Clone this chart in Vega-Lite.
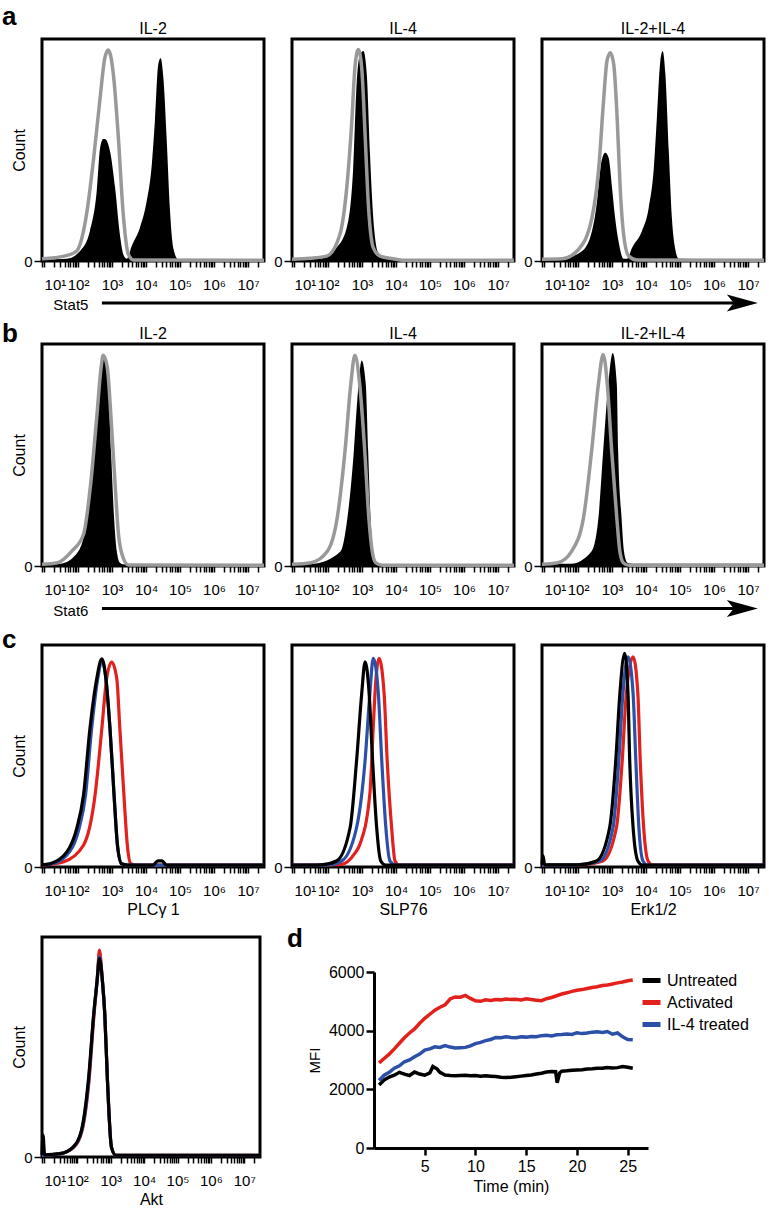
{
  "$schema": "https://vega.github.io/schema/vega-lite/v6.json",
  "padding": {"left": 2, "top": 3, "right": 2, "bottom": 2},
  "config": {
    "font": "Liberation Sans",
    "view": {"stroke": "black", "strokeWidth": 3},
    "axis": {"labelFont": "Liberation Sans", "titleFont": "Liberation Sans", "labelColor": "black", "titleColor": "black", "grid": false, "tickColor": "black", "domainColor": "black", "titleFontWeight": "normal"},
    "title": {"font": "Liberation Sans", "fontWeight": "normal", "color": "black"},
    "legend": {"labelFont": "Liberation Sans", "labelColor": "black", "padding": 0}
  },
  "datasets": {
    "hist": [
      {"panel":"a1","series":"unstimulated","logx":0.94,"count":1},
      {"panel":"a1","series":"unstimulated","logx":1.32,"count":1.5},
      {"panel":"a1","series":"unstimulated","logx":1.68,"count":2.5},
      {"panel":"a1","series":"unstimulated","logx":1.96,"count":4.5},
      {"panel":"a1","series":"unstimulated","logx":2.25,"count":21},
      {"panel":"a1","series":"unstimulated","logx":2.45,"count":45},
      {"panel":"a1","series":"unstimulated","logx":2.65,"count":73.6},
      {"panel":"a1","series":"unstimulated","logx":2.79,"count":91.6},
      {"panel":"a1","series":"unstimulated","logx":2.89,"count":95},
      {"panel":"a1","series":"unstimulated","logx":3.04,"count":84},
      {"panel":"a1","series":"unstimulated","logx":3.18,"count":57},
      {"panel":"a1","series":"unstimulated","logx":3.33,"count":21},
      {"panel":"a1","series":"unstimulated","logx":3.48,"count":3},
      {"panel":"a1","series":"unstimulated","logx":3.63,"count":0.5},
      {"panel":"a1","series":"unstimulated","logx":7.47,"count":0.3},
      {"panel":"a1","series":"stimulated","logx":0.94,"count":0.5},
      {"panel":"a1","series":"stimulated","logx":1.67,"count":1},
      {"panel":"a1","series":"stimulated","logx":2.06,"count":4.5},
      {"panel":"a1","series":"stimulated","logx":2.35,"count":13.5},
      {"panel":"a1","series":"stimulated","logx":2.55,"count":31.5},
      {"panel":"a1","series":"stimulated","logx":2.65,"count":51},
      {"panel":"a1","series":"stimulated","logx":2.74,"count":55},
      {"panel":"a1","series":"stimulated","logx":2.79,"count":55},
      {"panel":"a1","series":"stimulated","logx":2.94,"count":49.5},
      {"panel":"a1","series":"stimulated","logx":3.09,"count":33},
      {"panel":"a1","series":"stimulated","logx":3.23,"count":12},
      {"panel":"a1","series":"stimulated","logx":3.33,"count":3},
      {"panel":"a1","series":"stimulated","logx":3.43,"count":1},
      {"panel":"a1","series":"stimulated","logx":3.58,"count":6.8},
      {"panel":"a1","series":"stimulated","logx":3.82,"count":15},
      {"panel":"a1","series":"stimulated","logx":4.02,"count":27},
      {"panel":"a1","series":"stimulated","logx":4.17,"count":43.5},
      {"panel":"a1","series":"stimulated","logx":4.26,"count":63},
      {"panel":"a1","series":"stimulated","logx":4.36,"count":88.6},
      {"panel":"a1","series":"stimulated","logx":4.43,"count":91.3},
      {"panel":"a1","series":"stimulated","logx":4.51,"count":82.6},
      {"panel":"a1","series":"stimulated","logx":4.61,"count":54},
      {"panel":"a1","series":"stimulated","logx":4.70,"count":24},
      {"panel":"a1","series":"stimulated","logx":4.80,"count":6},
      {"panel":"a1","series":"stimulated","logx":4.95,"count":0.7},
      {"panel":"a1","series":"stimulated","logx":7.47,"count":0.5},

      {"panel":"a2","series":"unstimulated","logx":0.94,"count":0.8},
      {"panel":"a2","series":"unstimulated","logx":1.47,"count":1.2},
      {"panel":"a2","series":"unstimulated","logx":1.96,"count":2.2},
      {"panel":"a2","series":"unstimulated","logx":2.35,"count":12},
      {"panel":"a2","series":"unstimulated","logx":2.55,"count":33},
      {"panel":"a2","series":"unstimulated","logx":2.70,"count":63},
      {"panel":"a2","series":"unstimulated","logx":2.79,"count":87},
      {"panel":"a2","series":"unstimulated","logx":2.89,"count":95.3},
      {"panel":"a2","series":"unstimulated","logx":2.99,"count":87},
      {"panel":"a2","series":"unstimulated","logx":3.09,"count":57},
      {"panel":"a2","series":"unstimulated","logx":3.18,"count":27},
      {"panel":"a2","series":"unstimulated","logx":3.33,"count":6},
      {"panel":"a2","series":"unstimulated","logx":3.53,"count":2.2},
      {"panel":"a2","series":"unstimulated","logx":3.91,"count":1},
      {"panel":"a2","series":"unstimulated","logx":4.2,"count":0.3},
      {"panel":"a2","series":"unstimulated","logx":7.47,"count":0.3},
      {"panel":"a2","series":"stimulated","logx":0.94,"count":0.5},
      {"panel":"a2","series":"stimulated","logx":1.76,"count":1},
      {"panel":"a2","series":"stimulated","logx":2.25,"count":6},
      {"panel":"a2","series":"stimulated","logx":2.55,"count":15},
      {"panel":"a2","series":"stimulated","logx":2.74,"count":42},
      {"panel":"a2","series":"stimulated","logx":2.84,"count":79.6},
      {"panel":"a2","series":"stimulated","logx":2.94,"count":93},
      {"panel":"a2","series":"stimulated","logx":3.04,"count":94.6},
      {"panel":"a2","series":"stimulated","logx":3.14,"count":84},
      {"panel":"a2","series":"stimulated","logx":3.23,"count":49.5},
      {"panel":"a2","series":"stimulated","logx":3.33,"count":19.5},
      {"panel":"a2","series":"stimulated","logx":3.48,"count":3.7},
      {"panel":"a2","series":"stimulated","logx":3.63,"count":2.2},
      {"panel":"a2","series":"stimulated","logx":4.12,"count":1},
      {"panel":"a2","series":"stimulated","logx":4.41,"count":0.3},
      {"panel":"a2","series":"stimulated","logx":7.47,"count":0.3},

      {"panel":"a3","series":"unstimulated","logx":0.94,"count":0.8},
      {"panel":"a3","series":"unstimulated","logx":1.53,"count":1},
      {"panel":"a3","series":"unstimulated","logx":2.02,"count":5.3},
      {"panel":"a3","series":"unstimulated","logx":2.41,"count":19.5},
      {"panel":"a3","series":"unstimulated","logx":2.61,"count":42},
      {"panel":"a3","series":"unstimulated","logx":2.75,"count":72},
      {"panel":"a3","series":"unstimulated","logx":2.85,"count":90},
      {"panel":"a3","series":"unstimulated","logx":2.95,"count":93.8},
      {"panel":"a3","series":"unstimulated","logx":3.05,"count":88.6},
      {"panel":"a3","series":"unstimulated","logx":3.15,"count":64.6},
      {"panel":"a3","series":"unstimulated","logx":3.24,"count":33},
      {"panel":"a3","series":"unstimulated","logx":3.34,"count":12},
      {"panel":"a3","series":"unstimulated","logx":3.49,"count":2.2},
      {"panel":"a3","series":"unstimulated","logx":3.73,"count":0.5},
      {"panel":"a3","series":"unstimulated","logx":7.47,"count":0.3},
      {"panel":"a3","series":"stimulated","logx":0.94,"count":0.5},
      {"panel":"a3","series":"stimulated","logx":1.53,"count":1},
      {"panel":"a3","series":"stimulated","logx":2.12,"count":4.5},
      {"panel":"a3","series":"stimulated","logx":2.41,"count":13.5},
      {"panel":"a3","series":"stimulated","logx":2.56,"count":27},
      {"panel":"a3","series":"stimulated","logx":2.66,"count":42},
      {"panel":"a3","series":"stimulated","logx":2.75,"count":48},
      {"panel":"a3","series":"stimulated","logx":2.80,"count":48.8},
      {"panel":"a3","series":"stimulated","logx":2.90,"count":46.5},
      {"panel":"a3","series":"stimulated","logx":3.0,"count":33},
      {"panel":"a3","series":"stimulated","logx":3.09,"count":19.5},
      {"panel":"a3","series":"stimulated","logx":3.19,"count":9},
      {"panel":"a3","series":"stimulated","logx":3.34,"count":1},
      {"panel":"a3","series":"stimulated","logx":3.44,"count":1},
      {"panel":"a3","series":"stimulated","logx":3.59,"count":6},
      {"panel":"a3","series":"stimulated","logx":3.88,"count":13.5},
      {"panel":"a3","series":"stimulated","logx":4.08,"count":24},
      {"panel":"a3","series":"stimulated","logx":4.23,"count":42},
      {"panel":"a3","series":"stimulated","logx":4.32,"count":64.6},
      {"panel":"a3","series":"stimulated","logx":4.42,"count":90},
      {"panel":"a3","series":"stimulated","logx":4.49,"count":94.6},
      {"panel":"a3","series":"stimulated","logx":4.57,"count":84},
      {"panel":"a3","series":"stimulated","logx":4.67,"count":49.5},
      {"panel":"a3","series":"stimulated","logx":4.76,"count":19.5},
      {"panel":"a3","series":"stimulated","logx":4.86,"count":5.3},
      {"panel":"a3","series":"stimulated","logx":4.96,"count":1},
      {"panel":"a3","series":"stimulated","logx":7.47,"count":0.5},

      {"panel":"b1","series":"unstimulated","logx":0.94,"count":0.8},
      {"panel":"b1","series":"unstimulated","logx":1.4,"count":1.5},
      {"panel":"b1","series":"unstimulated","logx":1.81,"count":6.6},
      {"panel":"b1","series":"unstimulated","logx":2.16,"count":14.2},
      {"panel":"b1","series":"unstimulated","logx":2.37,"count":36.8},
      {"panel":"b1","series":"unstimulated","logx":2.55,"count":67},
      {"panel":"b1","series":"unstimulated","logx":2.68,"count":89.6},
      {"panel":"b1","series":"unstimulated","logx":2.74,"count":94.9},
      {"panel":"b1","series":"unstimulated","logx":2.86,"count":89.6},
      {"panel":"b1","series":"unstimulated","logx":2.97,"count":67},
      {"panel":"b1","series":"unstimulated","logx":3.09,"count":36.8},
      {"panel":"b1","series":"unstimulated","logx":3.19,"count":14.2},
      {"panel":"b1","series":"unstimulated","logx":3.33,"count":3.6},
      {"panel":"b1","series":"unstimulated","logx":3.48,"count":0.5},
      {"panel":"b1","series":"unstimulated","logx":7.47,"count":0.3},
      {"panel":"b1","series":"stimulated","logx":0.94,"count":0.5},
      {"panel":"b1","series":"stimulated","logx":1.5,"count":1},
      {"panel":"b1","series":"stimulated","logx":2.01,"count":6.6},
      {"panel":"b1","series":"stimulated","logx":2.27,"count":21.7},
      {"panel":"b1","series":"stimulated","logx":2.48,"count":51.9},
      {"panel":"b1","series":"stimulated","logx":2.65,"count":82},
      {"panel":"b1","series":"stimulated","logx":2.76,"count":93.3},
      {"panel":"b1","series":"stimulated","logx":2.89,"count":82},
      {"panel":"b1","series":"stimulated","logx":2.97,"count":51.9},
      {"panel":"b1","series":"stimulated","logx":3.06,"count":21.7},
      {"panel":"b1","series":"stimulated","logx":3.14,"count":6.6},
      {"panel":"b1","series":"stimulated","logx":3.23,"count":1.5},
      {"panel":"b1","series":"stimulated","logx":3.4,"count":0.5},
      {"panel":"b1","series":"stimulated","logx":7.47,"count":0.5},

      {"panel":"b2","series":"unstimulated","logx":0.94,"count":0.8},
      {"panel":"b2","series":"unstimulated","logx":1.5,"count":1.5},
      {"panel":"b2","series":"unstimulated","logx":1.98,"count":6.6},
      {"panel":"b2","series":"unstimulated","logx":2.27,"count":21.7},
      {"panel":"b2","series":"unstimulated","logx":2.50,"count":51.9},
      {"panel":"b2","series":"unstimulated","logx":2.67,"count":82},
      {"panel":"b2","series":"unstimulated","logx":2.79,"count":94.9},
      {"panel":"b2","series":"unstimulated","logx":2.93,"count":82},
      {"panel":"b2","series":"unstimulated","logx":3.08,"count":51.9},
      {"panel":"b2","series":"unstimulated","logx":3.20,"count":21.7},
      {"panel":"b2","series":"unstimulated","logx":3.30,"count":6.6},
      {"panel":"b2","series":"unstimulated","logx":3.40,"count":1.5},
      {"panel":"b2","series":"unstimulated","logx":3.6,"count":0.3},
      {"panel":"b2","series":"unstimulated","logx":7.47,"count":0.3},
      {"panel":"b2","series":"stimulated","logx":0.94,"count":0.5},
      {"panel":"b2","series":"stimulated","logx":1.6,"count":1},
      {"panel":"b2","series":"stimulated","logx":2.37,"count":6.6},
      {"panel":"b2","series":"stimulated","logx":2.57,"count":21.7},
      {"panel":"b2","series":"stimulated","logx":2.76,"count":51.9},
      {"panel":"b2","series":"stimulated","logx":2.86,"count":74.5},
      {"panel":"b2","series":"stimulated","logx":2.99,"count":92.6},
      {"panel":"b2","series":"stimulated","logx":3.11,"count":82},
      {"panel":"b2","series":"stimulated","logx":3.18,"count":51.9},
      {"panel":"b2","series":"stimulated","logx":3.25,"count":21.7},
      {"panel":"b2","series":"stimulated","logx":3.32,"count":6.6},
      {"panel":"b2","series":"stimulated","logx":3.38,"count":1.5},
      {"panel":"b2","series":"stimulated","logx":3.6,"count":0.5},
      {"panel":"b2","series":"stimulated","logx":7.47,"count":0.5},

      {"panel":"b3","series":"unstimulated","logx":0.94,"count":0.8},
      {"panel":"b3","series":"unstimulated","logx":1.4,"count":1.5},
      {"panel":"b3","series":"unstimulated","logx":1.81,"count":6.6},
      {"panel":"b3","series":"unstimulated","logx":2.16,"count":21.7},
      {"panel":"b3","series":"unstimulated","logx":2.40,"count":51.9},
      {"panel":"b3","series":"unstimulated","logx":2.60,"count":82},
      {"panel":"b3","series":"unstimulated","logx":2.74,"count":95.3},
      {"panel":"b3","series":"unstimulated","logx":2.86,"count":82},
      {"panel":"b3","series":"unstimulated","logx":2.99,"count":51.9},
      {"panel":"b3","series":"unstimulated","logx":3.14,"count":21.7},
      {"panel":"b3","series":"unstimulated","logx":3.23,"count":6.6},
      {"panel":"b3","series":"unstimulated","logx":3.33,"count":1.5},
      {"panel":"b3","series":"unstimulated","logx":3.5,"count":0.3},
      {"panel":"b3","series":"unstimulated","logx":7.47,"count":0.3},
      {"panel":"b3","series":"stimulated","logx":0.94,"count":1},
      {"panel":"b3","series":"stimulated","logx":1.8,"count":1},
      {"panel":"b3","series":"stimulated","logx":2.40,"count":6.6},
      {"panel":"b3","series":"stimulated","logx":2.60,"count":21.7},
      {"panel":"b3","series":"stimulated","logx":2.74,"count":51.9},
      {"panel":"b3","series":"stimulated","logx":2.89,"count":82},
      {"panel":"b3","series":"stimulated","logx":3.02,"count":95.9},
      {"panel":"b3","series":"stimulated","logx":3.14,"count":82},
      {"panel":"b3","series":"stimulated","logx":3.18,"count":51.9},
      {"panel":"b3","series":"stimulated","logx":3.28,"count":21.7},
      {"panel":"b3","series":"stimulated","logx":3.35,"count":6.6},
      {"panel":"b3","series":"stimulated","logx":3.45,"count":1.5},
      {"panel":"b3","series":"stimulated","logx":3.6,"count":1},
      {"panel":"b3","series":"stimulated","logx":7.47,"count":1},

      {"panel":"c1","series":"Activated","logx":0.94,"count":0.8},
      {"panel":"c1","series":"Activated","logx":1.57,"count":2.3},
      {"panel":"c1","series":"Activated","logx":2.16,"count":9.8},
      {"panel":"c1","series":"Activated","logx":2.50,"count":32.3},
      {"panel":"c1","series":"Activated","logx":2.70,"count":62.3},
      {"panel":"c1","series":"Activated","logx":2.84,"count":84.8},
      {"panel":"c1","series":"Activated","logx":2.99,"count":92.3},
      {"panel":"c1","series":"Activated","logx":3.14,"count":84.8},
      {"panel":"c1","series":"Activated","logx":3.23,"count":62.3},
      {"panel":"c1","series":"Activated","logx":3.35,"count":32.3},
      {"panel":"c1","series":"Activated","logx":3.45,"count":9.8},
      {"panel":"c1","series":"Activated","logx":3.55,"count":1.5},
      {"panel":"c1","series":"Activated","logx":3.7,"count":0.8},
      {"panel":"c1","series":"Activated","logx":7.47,"count":0.8},
      {"panel":"c1","series":"IL-4 treated","logx":0.94,"count":1},
      {"panel":"c1","series":"IL-4 treated","logx":1.25,"count":1.5},
      {"panel":"c1","series":"IL-4 treated","logx":1.75,"count":6.8},
      {"panel":"c1","series":"IL-4 treated","logx":2.03,"count":17.3},
      {"panel":"c1","series":"IL-4 treated","logx":2.22,"count":32.3},
      {"panel":"c1","series":"IL-4 treated","logx":2.40,"count":62.3},
      {"panel":"c1","series":"IL-4 treated","logx":2.58,"count":84.8},
      {"panel":"c1","series":"IL-4 treated","logx":2.70,"count":93},
      {"panel":"c1","series":"IL-4 treated","logx":2.82,"count":84.8},
      {"panel":"c1","series":"IL-4 treated","logx":2.94,"count":62.3},
      {"panel":"c1","series":"IL-4 treated","logx":3.06,"count":32.3},
      {"panel":"c1","series":"IL-4 treated","logx":3.16,"count":9.8},
      {"panel":"c1","series":"IL-4 treated","logx":3.28,"count":1.5},
      {"panel":"c1","series":"IL-4 treated","logx":3.5,"count":0.8},
      {"panel":"c1","series":"IL-4 treated","logx":7.47,"count":0.8},
      {"panel":"c1","series":"Untreated","logx":0.94,"count":1},
      {"panel":"c1","series":"Untreated","logx":1.18,"count":1.5},
      {"panel":"c1","series":"Untreated","logx":1.67,"count":6.8},
      {"panel":"c1","series":"Untreated","logx":1.96,"count":17.3},
      {"panel":"c1","series":"Untreated","logx":2.16,"count":32.3},
      {"panel":"c1","series":"Untreated","logx":2.35,"count":62.3},
      {"panel":"c1","series":"Untreated","logx":2.55,"count":84.8},
      {"panel":"c1","series":"Untreated","logx":2.70,"count":93.8},
      {"panel":"c1","series":"Untreated","logx":2.82,"count":84.8},
      {"panel":"c1","series":"Untreated","logx":2.94,"count":62.3},
      {"panel":"c1","series":"Untreated","logx":3.06,"count":32.3},
      {"panel":"c1","series":"Untreated","logx":3.16,"count":9.8},
      {"panel":"c1","series":"Untreated","logx":3.28,"count":1.5},
      {"panel":"c1","series":"Untreated","logx":3.5,"count":0.8},
      {"panel":"c1","series":"Untreated","logx":4.2,"count":0.8},
      {"panel":"c1","series":"Untreated","logx":4.35,"count":2.8},
      {"panel":"c1","series":"Untreated","logx":4.47,"count":2.8},
      {"panel":"c1","series":"Untreated","logx":4.6,"count":0.8},
      {"panel":"c1","series":"Untreated","logx":7.47,"count":0.8},

      {"panel":"c2","series":"Activated","logx":0.94,"count":0.8},
      {"panel":"c2","series":"Activated","logx":2.40,"count":1.2},
      {"panel":"c2","series":"Activated","logx":2.78,"count":6},
      {"panel":"c2","series":"Activated","logx":2.94,"count":10.3},
      {"panel":"c2","series":"Activated","logx":3.23,"count":32.9},
      {"panel":"c2","series":"Activated","logx":3.33,"count":63},
      {"panel":"c2","series":"Activated","logx":3.38,"count":78},
      {"panel":"c2","series":"Activated","logx":3.50,"count":94},
      {"panel":"c2","series":"Activated","logx":3.65,"count":78},
      {"panel":"c2","series":"Activated","logx":3.74,"count":48},
      {"panel":"c2","series":"Activated","logx":3.87,"count":17.8},
      {"panel":"c2","series":"Activated","logx":3.97,"count":2.7},
      {"panel":"c2","series":"Activated","logx":4.1,"count":0.8},
      {"panel":"c2","series":"Activated","logx":7.47,"count":0.8},
      {"panel":"c2","series":"IL-4 treated","logx":0.94,"count":0.8},
      {"panel":"c2","series":"IL-4 treated","logx":2.0,"count":1},
      {"panel":"c2","series":"IL-4 treated","logx":2.40,"count":2.7},
      {"panel":"c2","series":"IL-4 treated","logx":2.84,"count":17.8},
      {"panel":"c2","series":"IL-4 treated","logx":3.09,"count":48},
      {"panel":"c2","series":"IL-4 treated","logx":3.23,"count":78},
      {"panel":"c2","series":"IL-4 treated","logx":3.33,"count":94},
      {"panel":"c2","series":"IL-4 treated","logx":3.48,"count":78},
      {"panel":"c2","series":"IL-4 treated","logx":3.58,"count":48},
      {"panel":"c2","series":"IL-4 treated","logx":3.70,"count":17.8},
      {"panel":"c2","series":"IL-4 treated","logx":3.82,"count":2.7},
      {"panel":"c2","series":"IL-4 treated","logx":4.0,"count":0.8},
      {"panel":"c2","series":"IL-4 treated","logx":7.47,"count":0.8},
      {"panel":"c2","series":"Untreated","logx":0.94,"count":0.8},
      {"panel":"c2","series":"Untreated","logx":1.8,"count":1},
      {"panel":"c2","series":"Untreated","logx":2.25,"count":2.7},
      {"panel":"c2","series":"Untreated","logx":2.65,"count":17.8},
      {"panel":"c2","series":"Untreated","logx":2.84,"count":48},
      {"panel":"c2","series":"Untreated","logx":2.99,"count":78},
      {"panel":"c2","series":"Untreated","logx":3.09,"count":92.4},
      {"panel":"c2","series":"Untreated","logx":3.21,"count":78},
      {"panel":"c2","series":"Untreated","logx":3.31,"count":48},
      {"panel":"c2","series":"Untreated","logx":3.43,"count":17.8},
      {"panel":"c2","series":"Untreated","logx":3.55,"count":2.7},
      {"panel":"c2","series":"Untreated","logx":3.7,"count":0.8},
      {"panel":"c2","series":"Untreated","logx":7.47,"count":0.8},

      {"panel":"c3","series":"Activated","logx":0.94,"count":0.8},
      {"panel":"c3","series":"Activated","logx":2.1,"count":1},
      {"panel":"c3","series":"Activated","logx":2.73,"count":2.7},
      {"panel":"c3","series":"Activated","logx":3.13,"count":17.8},
      {"panel":"c3","series":"Activated","logx":3.30,"count":48},
      {"panel":"c3","series":"Activated","logx":3.42,"count":78},
      {"panel":"c3","series":"Activated","logx":3.62,"count":94.7},
      {"panel":"c3","series":"Activated","logx":3.76,"count":78},
      {"panel":"c3","series":"Activated","logx":3.83,"count":48},
      {"panel":"c3","series":"Activated","logx":3.93,"count":17.8},
      {"panel":"c3","series":"Activated","logx":4.06,"count":2.7},
      {"panel":"c3","series":"Activated","logx":4.2,"count":0.8},
      {"panel":"c3","series":"Activated","logx":7.47,"count":0.8},
      {"panel":"c3","series":"IL-4 treated","logx":0.94,"count":0.8},
      {"panel":"c3","series":"IL-4 treated","logx":2.0,"count":1},
      {"panel":"c3","series":"IL-4 treated","logx":2.64,"count":2.7},
      {"panel":"c3","series":"IL-4 treated","logx":3.03,"count":17.8},
      {"panel":"c3","series":"IL-4 treated","logx":3.20,"count":48},
      {"panel":"c3","series":"IL-4 treated","logx":3.32,"count":78},
      {"panel":"c3","series":"IL-4 treated","logx":3.47,"count":94.7},
      {"panel":"c3","series":"IL-4 treated","logx":3.62,"count":78},
      {"panel":"c3","series":"IL-4 treated","logx":3.70,"count":48},
      {"panel":"c3","series":"IL-4 treated","logx":3.79,"count":17.8},
      {"panel":"c3","series":"IL-4 treated","logx":3.91,"count":2.7},
      {"panel":"c3","series":"IL-4 treated","logx":4.05,"count":0.8},
      {"panel":"c3","series":"IL-4 treated","logx":7.47,"count":0.8},
      {"panel":"c3","series":"Untreated","logx":0.94,"count":1},
      {"panel":"c3","series":"Untreated","logx":0.97,"count":5},
      {"panel":"c3","series":"Untreated","logx":1.02,"count":1},
      {"panel":"c3","series":"Untreated","logx":2.0,"count":1},
      {"panel":"c3","series":"Untreated","logx":2.54,"count":2.7},
      {"panel":"c3","series":"Untreated","logx":2.93,"count":17.8},
      {"panel":"c3","series":"Untreated","logx":3.11,"count":48},
      {"panel":"c3","series":"Untreated","logx":3.23,"count":78},
      {"panel":"c3","series":"Untreated","logx":3.37,"count":96.2},
      {"panel":"c3","series":"Untreated","logx":3.47,"count":78},
      {"panel":"c3","series":"Untreated","logx":3.52,"count":48},
      {"panel":"c3","series":"Untreated","logx":3.62,"count":17.8},
      {"panel":"c3","series":"Untreated","logx":3.76,"count":2.7},
      {"panel":"c3","series":"Untreated","logx":3.9,"count":0.8},
      {"panel":"c3","series":"Untreated","logx":7.47,"count":0.8},

      {"panel":"c4","series":"Activated","logx":0.94,"count":0.8},
      {"panel":"c4","series":"Activated","logx":1.48,"count":1.5},
      {"panel":"c4","series":"Activated","logx":1.9,"count":4.5},
      {"panel":"c4","series":"Activated","logx":2.14,"count":12},
      {"panel":"c4","series":"Activated","logx":2.35,"count":35},
      {"panel":"c4","series":"Activated","logx":2.50,"count":65},
      {"panel":"c4","series":"Activated","logx":2.60,"count":82},
      {"panel":"c4","series":"Activated","logx":2.66,"count":94},
      {"panel":"c4","series":"Activated","logx":2.75,"count":80},
      {"panel":"c4","series":"Activated","logx":2.82,"count":65},
      {"panel":"c4","series":"Activated","logx":2.90,"count":35},
      {"panel":"c4","series":"Activated","logx":3.02,"count":4.5},
      {"panel":"c4","series":"Activated","logx":3.15,"count":0.8},
      {"panel":"c4","series":"Activated","logx":7.47,"count":0.8},
      {"panel":"c4","series":"IL-4 treated","logx":0.94,"count":0.8},
      {"panel":"c4","series":"IL-4 treated","logx":1.48,"count":1.5},
      {"panel":"c4","series":"IL-4 treated","logx":1.88,"count":4.5},
      {"panel":"c4","series":"IL-4 treated","logx":2.13,"count":12},
      {"panel":"c4","series":"IL-4 treated","logx":2.34,"count":35},
      {"panel":"c4","series":"IL-4 treated","logx":2.49,"count":65},
      {"panel":"c4","series":"IL-4 treated","logx":2.59,"count":80},
      {"panel":"c4","series":"IL-4 treated","logx":2.66,"count":91},
      {"panel":"c4","series":"IL-4 treated","logx":2.75,"count":80},
      {"panel":"c4","series":"IL-4 treated","logx":2.82,"count":65},
      {"panel":"c4","series":"IL-4 treated","logx":2.90,"count":35},
      {"panel":"c4","series":"IL-4 treated","logx":3.02,"count":4.5},
      {"panel":"c4","series":"IL-4 treated","logx":3.15,"count":0.8},
      {"panel":"c4","series":"IL-4 treated","logx":7.47,"count":0.8},
      {"panel":"c4","series":"Untreated","logx":0.94,"count":1},
      {"panel":"c4","series":"Untreated","logx":0.97,"count":10},
      {"panel":"c4","series":"Untreated","logx":1.02,"count":1},
      {"panel":"c4","series":"Untreated","logx":1.48,"count":1.5},
      {"panel":"c4","series":"Untreated","logx":1.87,"count":4.5},
      {"panel":"c4","series":"Untreated","logx":2.12,"count":12},
      {"panel":"c4","series":"Untreated","logx":2.33,"count":35},
      {"panel":"c4","series":"Untreated","logx":2.49,"count":65},
      {"panel":"c4","series":"Untreated","logx":2.59,"count":80},
      {"panel":"c4","series":"Untreated","logx":2.66,"count":90.2},
      {"panel":"c4","series":"Untreated","logx":2.75,"count":80},
      {"panel":"c4","series":"Untreated","logx":2.82,"count":65},
      {"panel":"c4","series":"Untreated","logx":2.90,"count":35},
      {"panel":"c4","series":"Untreated","logx":3.02,"count":4.5},
      {"panel":"c4","series":"Untreated","logx":3.15,"count":0.8},
      {"panel":"c4","series":"Untreated","logx":7.47,"count":0.8}
    ],
    "mfi": [
      {"group":"Untreated","time":0.5,"MFI":2150},{"group":"Untreated","time":1.0,"MFI":2320},{"group":"Untreated","time":1.5,"MFI":2420},{"group":"Untreated","time":2.0,"MFI":2480},{"group":"Untreated","time":2.5,"MFI":2580},{"group":"Untreated","time":3.0,"MFI":2520},{"group":"Untreated","time":3.5,"MFI":2470},{"group":"Untreated","time":4.0,"MFI":2590},{"group":"Untreated","time":4.5,"MFI":2520},{"group":"Untreated","time":5.0,"MFI":2480},{"group":"Untreated","time":5.5,"MFI":2560},{"group":"Untreated","time":5.8,"MFI":2780},{"group":"Untreated","time":6.2,"MFI":2700},{"group":"Untreated","time":6.5,"MFI":2580},{"group":"Untreated","time":7.0,"MFI":2490},{"group":"Untreated","time":7.5,"MFI":2470},{"group":"Untreated","time":8.0,"MFI":2460},{"group":"Untreated","time":8.5,"MFI":2470},{"group":"Untreated","time":9.0,"MFI":2480},{"group":"Untreated","time":9.5,"MFI":2460},{"group":"Untreated","time":10.0,"MFI":2470},{"group":"Untreated","time":10.5,"MFI":2450},{"group":"Untreated","time":11.0,"MFI":2460},{"group":"Untreated","time":11.5,"MFI":2450},{"group":"Untreated","time":12.0,"MFI":2440},{"group":"Untreated","time":12.5,"MFI":2410},{"group":"Untreated","time":13.0,"MFI":2400},{"group":"Untreated","time":13.5,"MFI":2410},{"group":"Untreated","time":14.0,"MFI":2430},{"group":"Untreated","time":14.5,"MFI":2450},{"group":"Untreated","time":15.0,"MFI":2470},{"group":"Untreated","time":15.5,"MFI":2490},{"group":"Untreated","time":16.0,"MFI":2520},{"group":"Untreated","time":16.5,"MFI":2550},{"group":"Untreated","time":17.0,"MFI":2590},{"group":"Untreated","time":17.5,"MFI":2610},{"group":"Untreated","time":17.9,"MFI":2600},{"group":"Untreated","time":18.05,"MFI":2220},{"group":"Untreated","time":18.3,"MFI":2560},{"group":"Untreated","time":18.5,"MFI":2620},{"group":"Untreated","time":19.0,"MFI":2630},{"group":"Untreated","time":19.5,"MFI":2650},{"group":"Untreated","time":20.0,"MFI":2660},{"group":"Untreated","time":20.5,"MFI":2670},{"group":"Untreated","time":21.0,"MFI":2690},{"group":"Untreated","time":21.5,"MFI":2700},{"group":"Untreated","time":22.0,"MFI":2720},{"group":"Untreated","time":22.5,"MFI":2720},{"group":"Untreated","time":23.0,"MFI":2740},{"group":"Untreated","time":23.5,"MFI":2730},{"group":"Untreated","time":24.0,"MFI":2740},{"group":"Untreated","time":24.5,"MFI":2780},{"group":"Untreated","time":25.0,"MFI":2750},{"group":"Untreated","time":25.5,"MFI":2720},
      {"group":"Activated","time":0.5,"MFI":2900},{"group":"Activated","time":1.0,"MFI":3050},{"group":"Activated","time":1.5,"MFI":3200},{"group":"Activated","time":2.0,"MFI":3380},{"group":"Activated","time":2.5,"MFI":3570},{"group":"Activated","time":3.0,"MFI":3760},{"group":"Activated","time":3.5,"MFI":3920},{"group":"Activated","time":4.0,"MFI":4060},{"group":"Activated","time":4.5,"MFI":4250},{"group":"Activated","time":5.0,"MFI":4420},{"group":"Activated","time":5.5,"MFI":4560},{"group":"Activated","time":6.0,"MFI":4700},{"group":"Activated","time":6.5,"MFI":4800},{"group":"Activated","time":7.0,"MFI":4880},{"group":"Activated","time":7.5,"MFI":5080},{"group":"Activated","time":8.0,"MFI":5150},{"group":"Activated","time":8.5,"MFI":5140},{"group":"Activated","time":9.0,"MFI":5200},{"group":"Activated","time":9.5,"MFI":5100},{"group":"Activated","time":10.0,"MFI":5020},{"group":"Activated","time":10.5,"MFI":5000},{"group":"Activated","time":11.0,"MFI":5050},{"group":"Activated","time":11.5,"MFI":5030},{"group":"Activated","time":12.0,"MFI":5060},{"group":"Activated","time":12.5,"MFI":5050},{"group":"Activated","time":13.0,"MFI":5080},{"group":"Activated","time":13.5,"MFI":5060},{"group":"Activated","time":14.0,"MFI":5070},{"group":"Activated","time":14.5,"MFI":5050},{"group":"Activated","time":15.0,"MFI":5090},{"group":"Activated","time":15.5,"MFI":5060},{"group":"Activated","time":16.0,"MFI":5040},{"group":"Activated","time":16.5,"MFI":5020},{"group":"Activated","time":17.0,"MFI":5090},{"group":"Activated","time":17.5,"MFI":5130},{"group":"Activated","time":18.0,"MFI":5190},{"group":"Activated","time":18.5,"MFI":5250},{"group":"Activated","time":19.0,"MFI":5290},{"group":"Activated","time":19.5,"MFI":5340},{"group":"Activated","time":20.0,"MFI":5380},{"group":"Activated","time":20.5,"MFI":5400},{"group":"Activated","time":21.0,"MFI":5440},{"group":"Activated","time":21.5,"MFI":5470},{"group":"Activated","time":22.0,"MFI":5500},{"group":"Activated","time":22.5,"MFI":5540},{"group":"Activated","time":23.0,"MFI":5560},{"group":"Activated","time":23.5,"MFI":5590},{"group":"Activated","time":24.0,"MFI":5630},{"group":"Activated","time":24.5,"MFI":5660},{"group":"Activated","time":25.0,"MFI":5700},{"group":"Activated","time":25.5,"MFI":5730},
      {"group":"IL-4 treated","time":0.5,"MFI":2300},{"group":"IL-4 treated","time":1.0,"MFI":2480},{"group":"IL-4 treated","time":1.5,"MFI":2580},{"group":"IL-4 treated","time":2.0,"MFI":2720},{"group":"IL-4 treated","time":2.5,"MFI":2800},{"group":"IL-4 treated","time":3.0,"MFI":2940},{"group":"IL-4 treated","time":3.5,"MFI":3000},{"group":"IL-4 treated","time":4.0,"MFI":3110},{"group":"IL-4 treated","time":4.5,"MFI":3200},{"group":"IL-4 treated","time":5.0,"MFI":3340},{"group":"IL-4 treated","time":5.5,"MFI":3380},{"group":"IL-4 treated","time":6.0,"MFI":3450},{"group":"IL-4 treated","time":6.5,"MFI":3430},{"group":"IL-4 treated","time":7.0,"MFI":3490},{"group":"IL-4 treated","time":7.5,"MFI":3440},{"group":"IL-4 treated","time":8.0,"MFI":3410},{"group":"IL-4 treated","time":8.5,"MFI":3420},{"group":"IL-4 treated","time":9.0,"MFI":3430},{"group":"IL-4 treated","time":9.5,"MFI":3480},{"group":"IL-4 treated","time":10.0,"MFI":3560},{"group":"IL-4 treated","time":10.5,"MFI":3600},{"group":"IL-4 treated","time":11.0,"MFI":3660},{"group":"IL-4 treated","time":11.5,"MFI":3700},{"group":"IL-4 treated","time":12.0,"MFI":3770},{"group":"IL-4 treated","time":12.5,"MFI":3760},{"group":"IL-4 treated","time":13.0,"MFI":3790},{"group":"IL-4 treated","time":13.5,"MFI":3770},{"group":"IL-4 treated","time":14.0,"MFI":3760},{"group":"IL-4 treated","time":14.5,"MFI":3790},{"group":"IL-4 treated","time":15.0,"MFI":3780},{"group":"IL-4 treated","time":15.5,"MFI":3800},{"group":"IL-4 treated","time":16.0,"MFI":3790},{"group":"IL-4 treated","time":16.5,"MFI":3830},{"group":"IL-4 treated","time":17.0,"MFI":3840},{"group":"IL-4 treated","time":17.5,"MFI":3820},{"group":"IL-4 treated","time":18.0,"MFI":3860},{"group":"IL-4 treated","time":18.5,"MFI":3870},{"group":"IL-4 treated","time":19.0,"MFI":3890},{"group":"IL-4 treated","time":19.5,"MFI":3870},{"group":"IL-4 treated","time":20.0,"MFI":3930},{"group":"IL-4 treated","time":20.5,"MFI":3900},{"group":"IL-4 treated","time":21.0,"MFI":3920},{"group":"IL-4 treated","time":21.5,"MFI":3950},{"group":"IL-4 treated","time":22.0,"MFI":3960},{"group":"IL-4 treated","time":22.5,"MFI":3940},{"group":"IL-4 treated","time":23.0,"MFI":3970},{"group":"IL-4 treated","time":23.5,"MFI":3880},{"group":"IL-4 treated","time":24.0,"MFI":3920},{"group":"IL-4 treated","time":24.5,"MFI":3790},{"group":"IL-4 treated","time":25.0,"MFI":3700},{"group":"IL-4 treated","time":25.5,"MFI":3690}
    ]
  },
  "resolve": {"scale": {"color": "independent"}, "legend": {"color": "independent"}},
  "spacing": 0,
  "vconcat": [
    {
      "title": {"text": "a", "anchor": "start", "frame": "group", "fontSize": 26, "fontWeight": "bold", "dx": -40, "offset": -10},
      "bounds": "flush",
      "spacing": 28,
      "hconcat": [
        {
          "width": 222, "height": 222,
          "title": {"text": "IL-2", "fontSize": 16, "offset": 2},
          "data": {"name": "hist"},
          "transform": [{"filter": "datum.panel === 'a1'"}],
          "encoding": {
            "x": {"field": "logx", "type": "quantitative", "scale": {"domain": [0.94, 7.47], "nice": false, "zero": false}, "axis": {"title": null, "values": [0.954,1,1.301,1.477,1.602,1.699,1.778,1.845,1.903,1.954,2,2.301,2.477,2.602,2.699,2.778,2.845,2.903,2.954,3,3.301,3.477,3.602,3.699,3.778,3.845,3.903,3.954,4,4.301,4.477,4.602,4.699,4.778,4.845,4.903,4.954,5,5.301,5.477,5.602,5.699,5.778,5.845,5.903,5.954,6,6.301,6.477,6.602,6.699,6.778,6.845,6.903,6.954,7,7.301], "labelExpr": "datum.value == 1 ? '10¹' : datum.value == 2 ? '10²' : datum.value == 3 ? '10³' : datum.value == 4 ? '10⁴' : datum.value == 5 ? '10⁵' : datum.value == 6 ? '10⁶' : datum.value == 7 ? '10⁷' : ''", "labelFlush": 4, "labelOverlap": false, "domain": false, "tickSize": 6, "tickWidth": 1.5, "labelFontSize": 15, "labelPadding": 10}},
            "y": {"field": "count", "type": "quantitative", "scale": {"domain": [0, 100], "nice": false}, "axis": {"title": "Count", "values": [0], "domain": false, "tickSize": 8, "tickWidth": 1.5, "labelFontSize": 15, "titleFontSize": 16, "titlePadding": -4, "labelPadding": 2}}
          },
          "layer": [
            {"transform": [{"filter": "datum.series === 'stimulated'"}], "mark": {"type": "area", "color": "black", "interpolate": "monotone"}},
            {"transform": [{"filter": "datum.series === 'unstimulated'"}], "mark": {"type": "line", "color": "#999999", "strokeWidth": 3.5, "interpolate": "monotone"}}
          ]
        },
        {
          "width": 222, "height": 222,
          "title": {"text": "IL-4", "fontSize": 16, "offset": 2},
          "data": {"name": "hist"},
          "transform": [{"filter": "datum.panel === 'a2'"}],
          "encoding": {
            "x": {"field": "logx", "type": "quantitative", "scale": {"domain": [0.94, 7.47], "nice": false, "zero": false}, "axis": {"title": null, "values": [0.954,1,1.301,1.477,1.602,1.699,1.778,1.845,1.903,1.954,2,2.301,2.477,2.602,2.699,2.778,2.845,2.903,2.954,3,3.301,3.477,3.602,3.699,3.778,3.845,3.903,3.954,4,4.301,4.477,4.602,4.699,4.778,4.845,4.903,4.954,5,5.301,5.477,5.602,5.699,5.778,5.845,5.903,5.954,6,6.301,6.477,6.602,6.699,6.778,6.845,6.903,6.954,7,7.301], "labelExpr": "datum.value == 1 ? '10¹' : datum.value == 2 ? '10²' : datum.value == 3 ? '10³' : datum.value == 4 ? '10⁴' : datum.value == 5 ? '10⁵' : datum.value == 6 ? '10⁶' : datum.value == 7 ? '10⁷' : ''", "labelFlush": 4, "labelOverlap": false, "domain": false, "tickSize": 6, "tickWidth": 1.5, "labelFontSize": 15, "labelPadding": 10}},
            "y": {"field": "count", "type": "quantitative", "scale": {"domain": [0, 100], "nice": false}, "axis": {"title": null, "values": [0], "domain": false, "tickSize": 8, "tickWidth": 1.5, "labelFontSize": 15, "labelPadding": 2}}
          },
          "layer": [
            {"transform": [{"filter": "datum.series === 'stimulated'"}], "mark": {"type": "area", "color": "black", "interpolate": "monotone"}},
            {"transform": [{"filter": "datum.series === 'unstimulated'"}], "mark": {"type": "line", "color": "#999999", "strokeWidth": 3.5, "interpolate": "monotone"}}
          ]
        },
        {
          "width": 222, "height": 222,
          "title": {"text": "IL-2+IL-4", "fontSize": 16, "offset": 2},
          "data": {"name": "hist"},
          "transform": [{"filter": "datum.panel === 'a3'"}],
          "encoding": {
            "x": {"field": "logx", "type": "quantitative", "scale": {"domain": [0.94, 7.47], "nice": false, "zero": false}, "axis": {"title": null, "values": [0.954,1,1.301,1.477,1.602,1.699,1.778,1.845,1.903,1.954,2,2.301,2.477,2.602,2.699,2.778,2.845,2.903,2.954,3,3.301,3.477,3.602,3.699,3.778,3.845,3.903,3.954,4,4.301,4.477,4.602,4.699,4.778,4.845,4.903,4.954,5,5.301,5.477,5.602,5.699,5.778,5.845,5.903,5.954,6,6.301,6.477,6.602,6.699,6.778,6.845,6.903,6.954,7,7.301], "labelExpr": "datum.value == 1 ? '10¹' : datum.value == 2 ? '10²' : datum.value == 3 ? '10³' : datum.value == 4 ? '10⁴' : datum.value == 5 ? '10⁵' : datum.value == 6 ? '10⁶' : datum.value == 7 ? '10⁷' : ''", "labelFlush": 4, "labelOverlap": false, "domain": false, "tickSize": 6, "tickWidth": 1.5, "labelFontSize": 15, "labelPadding": 10}},
            "y": {"field": "count", "type": "quantitative", "scale": {"domain": [0, 100], "nice": false}, "axis": {"title": null, "values": [0], "domain": false, "tickSize": 8, "tickWidth": 1.5, "labelFontSize": 15, "labelPadding": 2}}
          },
          "layer": [
            {"transform": [{"filter": "datum.series === 'stimulated'"}], "mark": {"type": "area", "color": "black", "interpolate": "monotone"}},
            {"transform": [{"filter": "datum.series === 'unstimulated'"}], "mark": {"type": "line", "color": "#999999", "strokeWidth": 3.5, "interpolate": "monotone"}}
          ]
        }
      ]
    },
    {
      "width": 722, "height": 26,
      "view": {"stroke": null},
      "data": {"values": [{}]},
      "layer": [
        {"mark": {"type": "rule", "strokeWidth": 3, "color": "black"},
         "encoding": {"x": {"datum": 0.083, "type": "quantitative", "scale": {"domain": [0, 1], "nice": false, "zero": false}, "axis": null}, "x2": {"datum": 0.975}, "y": {"datum": 0.654, "type": "quantitative", "scale": {"domain": [0, 1], "nice": false}, "axis": null}}},
        {"mark": {"type": "point", "shape": "M-1,-0.55L1,0L-1,0.55L-0.55,0Z", "size": 961, "filled": true, "color": "black", "opacity": 1},
         "encoding": {"x": {"datum": 0.97, "type": "quantitative"}, "y": {"datum": 0.654, "type": "quantitative"}}},
        {"mark": {"type": "text", "text": "Stat5", "fontSize": 15, "align": "center", "baseline": "middle", "dy": 2},
         "encoding": {"x": {"datum": 0.04, "type": "quantitative"}, "y": {"datum": 0.654, "type": "quantitative"}}}
      ]
    },
    {
      "title": {"text": "b", "anchor": "start", "frame": "group", "fontSize": 26, "fontWeight": "bold", "dx": -40, "offset": -22},
      "bounds": "flush",
      "spacing": 28,
      "hconcat": [
        {
          "width": 222, "height": 222,
          "title": {"text": "IL-2", "fontSize": 16, "offset": 2},
          "data": {"name": "hist"},
          "transform": [{"filter": "datum.panel === 'b1'"}],
          "encoding": {
            "x": {"field": "logx", "type": "quantitative", "scale": {"domain": [0.94, 7.47], "nice": false, "zero": false}, "axis": {"title": null, "values": [0.954,1,1.301,1.477,1.602,1.699,1.778,1.845,1.903,1.954,2,2.301,2.477,2.602,2.699,2.778,2.845,2.903,2.954,3,3.301,3.477,3.602,3.699,3.778,3.845,3.903,3.954,4,4.301,4.477,4.602,4.699,4.778,4.845,4.903,4.954,5,5.301,5.477,5.602,5.699,5.778,5.845,5.903,5.954,6,6.301,6.477,6.602,6.699,6.778,6.845,6.903,6.954,7,7.301], "labelExpr": "datum.value == 1 ? '10¹' : datum.value == 2 ? '10²' : datum.value == 3 ? '10³' : datum.value == 4 ? '10⁴' : datum.value == 5 ? '10⁵' : datum.value == 6 ? '10⁶' : datum.value == 7 ? '10⁷' : ''", "labelFlush": 4, "labelOverlap": false, "domain": false, "tickSize": 6, "tickWidth": 1.5, "labelFontSize": 15, "labelPadding": 10}},
            "y": {"field": "count", "type": "quantitative", "scale": {"domain": [0, 100], "nice": false}, "axis": {"title": "Count", "values": [0], "domain": false, "tickSize": 8, "tickWidth": 1.5, "labelFontSize": 15, "titleFontSize": 16, "titlePadding": -4, "labelPadding": 2}}
          },
          "layer": [
            {"transform": [{"filter": "datum.series === 'stimulated'"}], "mark": {"type": "area", "color": "black", "interpolate": "monotone"}},
            {"transform": [{"filter": "datum.series === 'unstimulated'"}], "mark": {"type": "line", "color": "#999999", "strokeWidth": 3.5, "interpolate": "monotone"}}
          ]
        },
        {
          "width": 222, "height": 222,
          "title": {"text": "IL-4", "fontSize": 16, "offset": 2},
          "data": {"name": "hist"},
          "transform": [{"filter": "datum.panel === 'b2'"}],
          "encoding": {
            "x": {"field": "logx", "type": "quantitative", "scale": {"domain": [0.94, 7.47], "nice": false, "zero": false}, "axis": {"title": null, "values": [0.954,1,1.301,1.477,1.602,1.699,1.778,1.845,1.903,1.954,2,2.301,2.477,2.602,2.699,2.778,2.845,2.903,2.954,3,3.301,3.477,3.602,3.699,3.778,3.845,3.903,3.954,4,4.301,4.477,4.602,4.699,4.778,4.845,4.903,4.954,5,5.301,5.477,5.602,5.699,5.778,5.845,5.903,5.954,6,6.301,6.477,6.602,6.699,6.778,6.845,6.903,6.954,7,7.301], "labelExpr": "datum.value == 1 ? '10¹' : datum.value == 2 ? '10²' : datum.value == 3 ? '10³' : datum.value == 4 ? '10⁴' : datum.value == 5 ? '10⁵' : datum.value == 6 ? '10⁶' : datum.value == 7 ? '10⁷' : ''", "labelFlush": 4, "labelOverlap": false, "domain": false, "tickSize": 6, "tickWidth": 1.5, "labelFontSize": 15, "labelPadding": 10}},
            "y": {"field": "count", "type": "quantitative", "scale": {"domain": [0, 100], "nice": false}, "axis": {"title": null, "values": [0], "domain": false, "tickSize": 8, "tickWidth": 1.5, "labelFontSize": 15, "labelPadding": 2}}
          },
          "layer": [
            {"transform": [{"filter": "datum.series === 'stimulated'"}], "mark": {"type": "area", "color": "black", "interpolate": "monotone"}},
            {"transform": [{"filter": "datum.series === 'unstimulated'"}], "mark": {"type": "line", "color": "#999999", "strokeWidth": 3.5, "interpolate": "monotone"}}
          ]
        },
        {
          "width": 222, "height": 222,
          "title": {"text": "IL-2+IL-4", "fontSize": 16, "offset": 2},
          "data": {"name": "hist"},
          "transform": [{"filter": "datum.panel === 'b3'"}],
          "encoding": {
            "x": {"field": "logx", "type": "quantitative", "scale": {"domain": [0.94, 7.47], "nice": false, "zero": false}, "axis": {"title": null, "values": [0.954,1,1.301,1.477,1.602,1.699,1.778,1.845,1.903,1.954,2,2.301,2.477,2.602,2.699,2.778,2.845,2.903,2.954,3,3.301,3.477,3.602,3.699,3.778,3.845,3.903,3.954,4,4.301,4.477,4.602,4.699,4.778,4.845,4.903,4.954,5,5.301,5.477,5.602,5.699,5.778,5.845,5.903,5.954,6,6.301,6.477,6.602,6.699,6.778,6.845,6.903,6.954,7,7.301], "labelExpr": "datum.value == 1 ? '10¹' : datum.value == 2 ? '10²' : datum.value == 3 ? '10³' : datum.value == 4 ? '10⁴' : datum.value == 5 ? '10⁵' : datum.value == 6 ? '10⁶' : datum.value == 7 ? '10⁷' : ''", "labelFlush": 4, "labelOverlap": false, "domain": false, "tickSize": 6, "tickWidth": 1.5, "labelFontSize": 15, "labelPadding": 10}},
            "y": {"field": "count", "type": "quantitative", "scale": {"domain": [0, 100], "nice": false}, "axis": {"title": null, "values": [0], "domain": false, "tickSize": 8, "tickWidth": 1.5, "labelFontSize": 15, "labelPadding": 2}}
          },
          "layer": [
            {"transform": [{"filter": "datum.series === 'stimulated'"}], "mark": {"type": "area", "color": "black", "interpolate": "monotone"}},
            {"transform": [{"filter": "datum.series === 'unstimulated'"}], "mark": {"type": "line", "color": "#999999", "strokeWidth": 3.5, "interpolate": "monotone"}}
          ]
        }
      ]
    },
    {
      "width": 722, "height": 26,
      "view": {"stroke": null},
      "data": {"values": [{}]},
      "layer": [
        {"mark": {"type": "rule", "strokeWidth": 3, "color": "black"},
         "encoding": {"x": {"datum": 0.083, "type": "quantitative", "scale": {"domain": [0, 1], "nice": false, "zero": false}, "axis": null}, "x2": {"datum": 0.975}, "y": {"datum": 0.673, "type": "quantitative", "scale": {"domain": [0, 1], "nice": false}, "axis": null}}},
        {"mark": {"type": "point", "shape": "M-1,-0.55L1,0L-1,0.55L-0.55,0Z", "size": 961, "filled": true, "color": "black", "opacity": 1},
         "encoding": {"x": {"datum": 0.97, "type": "quantitative"}, "y": {"datum": 0.673, "type": "quantitative"}}},
        {"mark": {"type": "text", "text": "Stat6", "fontSize": 15, "align": "center", "baseline": "middle", "dy": 2},
         "encoding": {"x": {"datum": 0.04, "type": "quantitative"}, "y": {"datum": 0.673, "type": "quantitative"}}}
      ]
    },
    {
      "title": {"text": "c", "anchor": "start", "frame": "group", "fontSize": 26, "fontWeight": "bold", "dx": -40, "offset": -9},
      "bounds": "flush",
      "spacing": 28,
      "hconcat": [
        {
          "width": 222, "height": 222,
          "data": {"name": "hist"},
          "transform": [{"filter": "datum.panel === 'c1'"}],
          "encoding": {
            "x": {"field": "logx", "type": "quantitative", "scale": {"domain": [0.94, 7.47], "nice": false, "zero": false}, "axis": {"title": "PLCγ 1", "titleFontSize": 16, "titlePadding": 3, "values": [0.954,1,1.301,1.477,1.602,1.699,1.778,1.845,1.903,1.954,2,2.301,2.477,2.602,2.699,2.778,2.845,2.903,2.954,3,3.301,3.477,3.602,3.699,3.778,3.845,3.903,3.954,4,4.301,4.477,4.602,4.699,4.778,4.845,4.903,4.954,5,5.301,5.477,5.602,5.699,5.778,5.845,5.903,5.954,6,6.301,6.477,6.602,6.699,6.778,6.845,6.903,6.954,7,7.301], "labelExpr": "datum.value == 1 ? '10¹' : datum.value == 2 ? '10²' : datum.value == 3 ? '10³' : datum.value == 4 ? '10⁴' : datum.value == 5 ? '10⁵' : datum.value == 6 ? '10⁶' : datum.value == 7 ? '10⁷' : ''", "labelFlush": 4, "labelOverlap": false, "domain": false, "tickSize": 6, "tickWidth": 1.5, "labelFontSize": 15, "labelPadding": 10}},
            "y": {"field": "count", "type": "quantitative", "scale": {"domain": [0, 100], "nice": false}, "axis": {"title": "Count", "values": [0], "domain": false, "tickSize": 8, "tickWidth": 1.5, "labelFontSize": 15, "titleFontSize": 16, "titlePadding": -4, "labelPadding": 2}}
          },
          "layer": [
            {"transform": [{"filter": "datum.series === 'Activated'"}], "mark": {"type": "line", "color": "#e3211c", "strokeWidth": 3.2, "interpolate": "monotone"}},
            {"transform": [{"filter": "datum.series === 'IL-4 treated'"}], "mark": {"type": "line", "color": "#2c50a8", "strokeWidth": 3.2, "interpolate": "monotone"}},
            {"transform": [{"filter": "datum.series === 'Untreated'"}], "mark": {"type": "line", "color": "black", "strokeWidth": 3.2, "interpolate": "monotone"}}
          ]
        },
        {
          "width": 222, "height": 222,
          "data": {"name": "hist"},
          "transform": [{"filter": "datum.panel === 'c2'"}],
          "encoding": {
            "x": {"field": "logx", "type": "quantitative", "scale": {"domain": [0.94, 7.47], "nice": false, "zero": false}, "axis": {"title": "SLP76", "titleFontSize": 16, "titlePadding": 3, "values": [0.954,1,1.301,1.477,1.602,1.699,1.778,1.845,1.903,1.954,2,2.301,2.477,2.602,2.699,2.778,2.845,2.903,2.954,3,3.301,3.477,3.602,3.699,3.778,3.845,3.903,3.954,4,4.301,4.477,4.602,4.699,4.778,4.845,4.903,4.954,5,5.301,5.477,5.602,5.699,5.778,5.845,5.903,5.954,6,6.301,6.477,6.602,6.699,6.778,6.845,6.903,6.954,7,7.301], "labelExpr": "datum.value == 1 ? '10¹' : datum.value == 2 ? '10²' : datum.value == 3 ? '10³' : datum.value == 4 ? '10⁴' : datum.value == 5 ? '10⁵' : datum.value == 6 ? '10⁶' : datum.value == 7 ? '10⁷' : ''", "labelFlush": 4, "labelOverlap": false, "domain": false, "tickSize": 6, "tickWidth": 1.5, "labelFontSize": 15, "labelPadding": 10}},
            "y": {"field": "count", "type": "quantitative", "scale": {"domain": [0, 100], "nice": false}, "axis": {"title": null, "values": [0], "domain": false, "tickSize": 8, "tickWidth": 1.5, "labelFontSize": 15, "labelPadding": 2}}
          },
          "layer": [
            {"transform": [{"filter": "datum.series === 'Activated'"}], "mark": {"type": "line", "color": "#e3211c", "strokeWidth": 3.2, "interpolate": "monotone"}},
            {"transform": [{"filter": "datum.series === 'IL-4 treated'"}], "mark": {"type": "line", "color": "#2c50a8", "strokeWidth": 3.2, "interpolate": "monotone"}},
            {"transform": [{"filter": "datum.series === 'Untreated'"}], "mark": {"type": "line", "color": "black", "strokeWidth": 3.2, "interpolate": "monotone"}}
          ]
        },
        {
          "width": 222, "height": 222,
          "data": {"name": "hist"},
          "transform": [{"filter": "datum.panel === 'c3'"}],
          "encoding": {
            "x": {"field": "logx", "type": "quantitative", "scale": {"domain": [0.94, 7.47], "nice": false, "zero": false}, "axis": {"title": "Erk1/2", "titleFontSize": 16, "titlePadding": 3, "values": [0.954,1,1.301,1.477,1.602,1.699,1.778,1.845,1.903,1.954,2,2.301,2.477,2.602,2.699,2.778,2.845,2.903,2.954,3,3.301,3.477,3.602,3.699,3.778,3.845,3.903,3.954,4,4.301,4.477,4.602,4.699,4.778,4.845,4.903,4.954,5,5.301,5.477,5.602,5.699,5.778,5.845,5.903,5.954,6,6.301,6.477,6.602,6.699,6.778,6.845,6.903,6.954,7,7.301], "labelExpr": "datum.value == 1 ? '10¹' : datum.value == 2 ? '10²' : datum.value == 3 ? '10³' : datum.value == 4 ? '10⁴' : datum.value == 5 ? '10⁵' : datum.value == 6 ? '10⁶' : datum.value == 7 ? '10⁷' : ''", "labelFlush": 4, "labelOverlap": false, "domain": false, "tickSize": 6, "tickWidth": 1.5, "labelFontSize": 15, "labelPadding": 10}},
            "y": {"field": "count", "type": "quantitative", "scale": {"domain": [0, 100], "nice": false}, "axis": {"title": null, "values": [0], "domain": false, "tickSize": 8, "tickWidth": 1.5, "labelFontSize": 15, "labelPadding": 2}}
          },
          "layer": [
            {"transform": [{"filter": "datum.series === 'Activated'"}], "mark": {"type": "line", "color": "#e3211c", "strokeWidth": 3.2, "interpolate": "monotone"}},
            {"transform": [{"filter": "datum.series === 'IL-4 treated'"}], "mark": {"type": "line", "color": "#2c50a8", "strokeWidth": 3.2, "interpolate": "monotone"}},
            {"transform": [{"filter": "datum.series === 'Untreated'"}], "mark": {"type": "line", "color": "black", "strokeWidth": 3.2, "interpolate": "monotone"}}
          ]
        }
      ]
    },
    {
      "width": 722, "height": 7,
      "view": {"stroke": null},
      "data": {"values": [{}]},
      "mark": {"type": "point", "opacity": 0},
      "encoding": {}
    },
    {
      "bounds": "flush",
      "spacing": 114,
      "resolve": {"scale": {"color": "independent"}, "legend": {"color": "independent"}},
      "hconcat": [
        {
          "width": 218, "height": 220,
          "data": {"name": "hist"},
          "transform": [{"filter": "datum.panel === 'c4'"}],
          "encoding": {
            "x": {"field": "logx", "type": "quantitative", "scale": {"domain": [0.94, 7.47], "nice": false, "zero": false}, "axis": {"title": "Akt", "titleFontSize": 16, "titlePadding": 3, "values": [0.954,1,1.301,1.477,1.602,1.699,1.778,1.845,1.903,1.954,2,2.301,2.477,2.602,2.699,2.778,2.845,2.903,2.954,3,3.301,3.477,3.602,3.699,3.778,3.845,3.903,3.954,4,4.301,4.477,4.602,4.699,4.778,4.845,4.903,4.954,5,5.301,5.477,5.602,5.699,5.778,5.845,5.903,5.954,6,6.301,6.477,6.602,6.699,6.778,6.845,6.903,6.954,7,7.301], "labelExpr": "datum.value == 1 ? '10¹' : datum.value == 2 ? '10²' : datum.value == 3 ? '10³' : datum.value == 4 ? '10⁴' : datum.value == 5 ? '10⁵' : datum.value == 6 ? '10⁶' : datum.value == 7 ? '10⁷' : ''", "labelFlush": 4, "labelOverlap": false, "domain": false, "tickSize": 6, "tickWidth": 1.5, "labelFontSize": 15, "labelPadding": 10}},
            "y": {"field": "count", "type": "quantitative", "scale": {"domain": [0, 100], "nice": false}, "axis": {"title": "Count", "values": [0], "domain": false, "tickSize": 8, "tickWidth": 1.5, "labelFontSize": 15, "titleFontSize": 16, "titlePadding": -4, "labelPadding": 2}}
          },
          "layer": [
            {"transform": [{"filter": "datum.series === 'Activated'"}], "mark": {"type": "line", "color": "#e3211c", "strokeWidth": 3.2, "interpolate": "monotone"}},
            {"transform": [{"filter": "datum.series === 'IL-4 treated'"}], "mark": {"type": "line", "color": "#2c50a8", "strokeWidth": 3.2, "interpolate": "monotone"}},
            {"transform": [{"filter": "datum.series === 'Untreated'"}], "mark": {"type": "line", "color": "black", "strokeWidth": 3.2, "interpolate": "monotone"}}
          ]
        },
        {
          "bounds": "flush",
          "spacing": 0,
          "resolve": {"scale": {"color": "independent"}, "legend": {"color": "independent"}},
          "vconcat": [
            {
              "width": 274, "height": 35,
              "view": {"stroke": null},
              "title": {"text": "d", "anchor": "start", "frame": "group", "fontSize": 26, "fontWeight": "bold", "dx": -87, "offset": -15},
              "data": {"values": [{}]},
              "mark": {"type": "point", "opacity": 0},
              "encoding": {}
            },
            {
              "width": 274, "height": 176,
              "view": {"stroke": null},
              "data": {"name": "mfi"},
              "mark": {"type": "line", "strokeWidth": 3.5},
              "encoding": {
                "x": {"field": "time", "type": "quantitative", "scale": {"domain": [0, 27], "nice": false}, "axis": {"values": [5, 10, 15, 20, 25], "title": "Time (min)", "titleFontSize": 16, "labelFontSize": 16, "domainWidth": 3, "tickWidth": 2.5, "tickSize": 7, "labelPadding": 3, "titlePadding": 4}},
                "y": {"field": "MFI", "type": "quantitative", "scale": {"domain": [0, 6000], "nice": false}, "axis": {"values": [0, 2000, 4000, 6000], "format": "d", "title": "MFI", "titleFontSize": 15, "labelFontSize": 16, "domainWidth": 3, "tickWidth": 2.5, "tickSize": 8, "labelPadding": 2, "titlePadding": 6}},
                "color": {"field": "group", "type": "nominal", "scale": {"domain": ["Untreated", "Activated", "IL-4 treated"], "range": ["#000000", "#e3211c", "#2c50a8"]}, "legend": {"title": null, "orient": "none", "legendX": 266, "legendY": -3, "symbolType": "stroke", "symbolStrokeWidth": 5, "symbolSize": 324, "labelFontSize": 16, "rowPadding": -4.5, "labelOffset": 4}}
              }
            }
          ]
        }
      ]
    }
  ]
}
